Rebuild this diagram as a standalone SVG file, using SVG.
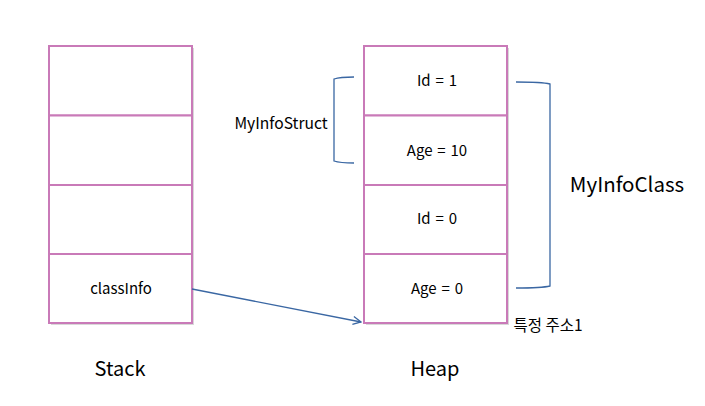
<svg xmlns="http://www.w3.org/2000/svg" width="705" height="406" viewBox="0 0 705 406">
<defs>
<style>
.cell{fill:#fff;stroke:#C97AB8;stroke-width:2}
.shadow{fill:#d8d8d8}
.t{font-family:"Malgun Gothic","Noto Sans CJK KR","Liberation Sans",sans-serif;fill:#000;text-anchor:middle}
.s{font-size:15px;word-spacing:1.5px}
.b{stroke:#3A67A3;stroke-width:1.3;fill:none}
</style>
<marker id="arr" markerWidth="10" markerHeight="10" refX="9" refY="5" orient="auto" markerUnits="userSpaceOnUse">
<path d="M1,1 L9,5 L1,9" fill="none" stroke="#3A67A3" stroke-width="1.3"/>
</marker>
</defs>
<rect width="705" height="406" fill="#fff"/>
<g id="stack">
<rect class="shadow" x="51" y="48" width="143" height="277"/>
<rect class="cell" x="49" y="46" width="143" height="69.5"/>
<rect class="cell" x="49" y="115.5" width="143" height="69.5"/>
<rect class="cell" x="49" y="185" width="143" height="69"/>
<rect class="cell" x="49" y="254" width="143" height="69"/>
<text class="t s" x="121" y="294">classInfo</text>
</g>
<g id="heap">
<rect class="shadow" x="366" y="48" width="143" height="277"/>
<rect class="cell" x="364" y="46" width="143" height="69.5"/>
<rect class="cell" x="364" y="115.5" width="143" height="69.5"/>
<rect class="cell" x="364" y="185" width="143" height="69"/>
<rect class="cell" x="364" y="254" width="143" height="69"/>
<text class="t s" x="437" y="86">Id = 1</text>
<text class="t s" x="437" y="156">Age = 10</text>
<text class="t s" x="437" y="224">Id = 0</text>
<text class="t s" x="437" y="294">Age = 0</text>
</g>
<g id="struct-brace">
<path class="b" d="M354,77 Q340,77 334,79 L334,161 Q340,163 354,163"/>
<text class="t" x="281" y="129" style="font-size:15.6px">MyInfoStruct</text>
</g>
<g id="class-brace">
<path class="b" d="M516,82 Q542,82 550,84 L550,286 Q542,288 516,288"/>
<text class="t" x="627" y="192" style="font-size:20.5px">MyInfoClass</text>
</g>
<g id="labels">
<text class="t" x="120" y="376" style="font-size:20px">Stack</text>
<text class="t" x="435" y="376" style="font-size:20px">Heap</text>
<text class="t" x="548" y="331" style="font-size:15.5px">특정 주소1</text>
</g>
<g id="connectors">
<line x1="192" y1="289" x2="361" y2="322" stroke="#3A67A3" stroke-width="1.3" marker-end="url(#arr)"/>
</g>
</svg>
